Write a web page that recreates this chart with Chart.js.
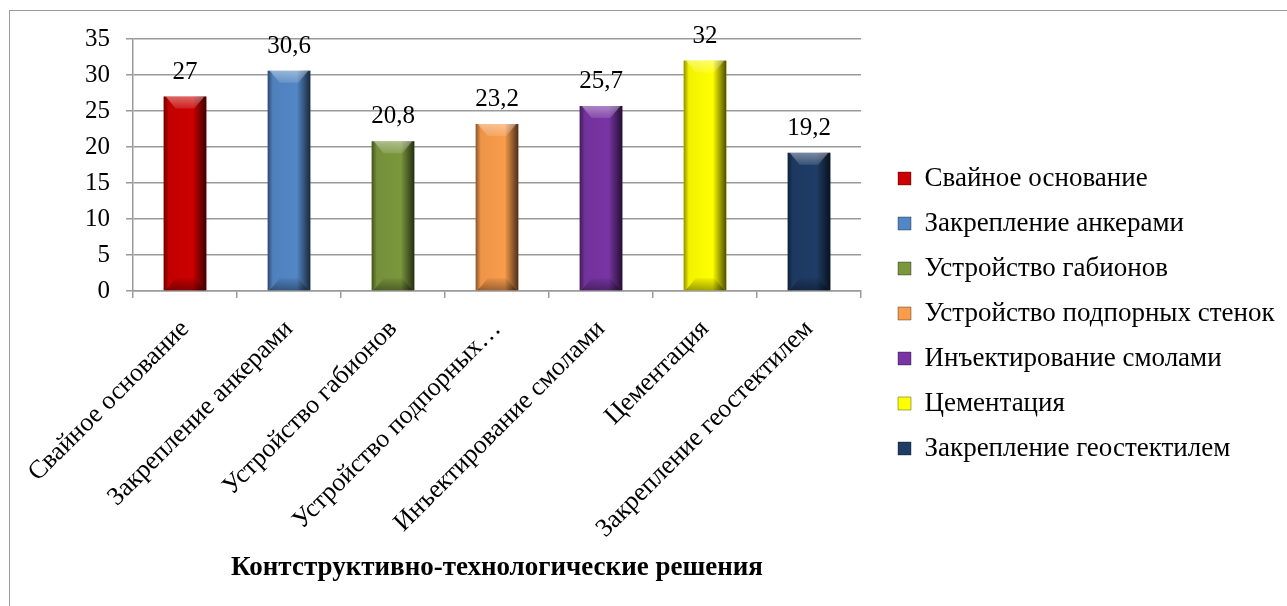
<!DOCTYPE html>
<html lang="ru">
<head>
<meta charset="UTF-8">
<title>Конструктивно-технологические решения</title>
<script src="https://cdn.jsdelivr.net/npm/chart.js"></script>
<style>
    html, body { margin: 0; padding: 0; background: #fff; overflow: hidden; }
    #frame {
        position: absolute; left: 9px; top: 10px;
        width: 1400px; height: 700px;
        border: 1px solid #9a9a9a;
    }
    #wrap { position: absolute; left: 0; top: 0; width: 1287px; height: 606px; }
</style>
</head>
<body>
<div id="frame"></div>
<div id="wrap"><canvas id="chart"></canvas></div>
<script>
    // данные диаграммы
    const categories = [
        'Свайное основание',
        'Закрепление анкерами',
        'Устройство габионов',
        'Устройство подпорных стенок',
        'Инъектирование смолами',
        'Цементация',
        'Закрепление геостектилем'
    ];
    const axisLabels = [
        'Свайное основание',
        'Закрепление анкерами',
        'Устройство габионов',
        'Устройство подпорных\u2026',
        'Инъектирование смолами',
        'Цементация',
        'Закрепление геостектилем'
    ];
    const values = [27, 30.6, 20.8, 23.2, 25.7, 32, 19.2];
    const barColors = ['#cc0000', '#5287c6', '#7b973d', '#f99c4c', '#7834a4', '#ffff00', '#1e3c66'];
    const yMin = 0, yMax = 35, yStep = 5;
    const axisTitle = 'Контструктивно-технологические решения';

    const FONT = "'Liberation Serif', 'Times New Roman', serif";
    const LEGEND_SIZE = 27, LEGEND_BOX = 13, LEGEND_PAD = 18;

    // ширина легенды, чтобы область графика кончалась там же, где в оригинале
    const mctx = document.createElement('canvas').getContext('2d');
    mctx.font = LEGEND_SIZE + 'px ' + FONT;
    const legendTextW = Math.max(...categories.map(c => mctx.measureText(c).width));
    const legendW = LEGEND_BOX + LEGEND_SIZE / 2 + legendTextW + 10 + LEGEND_PAD + 1;
    const padRight = Math.max(0, 1287 - 879 - legendW);

    // объёмные грани столбиков (как в Excel)
    const bevelPlugin = {
        id: 'bevel',
        afterDatasetsDraw(chart) {
            const ctx = chart.ctx;
            chart.getDatasetMeta(0).data.forEach(bar => {
                const p = bar.getProps(['x', 'y', 'base', 'width'], true);
                const l = p.x - p.width / 2, r = p.x + p.width / 2;
                const t = Math.min(p.y, p.base), b = Math.max(p.y, p.base);
                const bv = Math.min(12, p.width * 0.3, (b - t) / 2);
                ctx.save();
                let g = ctx.createLinearGradient(l, 0, r, 0);
                g.addColorStop(0, 'rgba(0,0,0,0.45)');
                g.addColorStop(0.12, 'rgba(0,0,0,0.05)');
                g.addColorStop(0.68, 'rgba(0,0,0,0)');
                g.addColorStop(1, 'rgba(0,0,0,0.7)');
                ctx.fillStyle = g;
                ctx.fillRect(l, t, r - l, b - t);

                g = ctx.createLinearGradient(0, t, 0, t + bv);
                g.addColorStop(0, 'rgba(255,255,255,0.4)');
                g.addColorStop(1, 'rgba(255,255,255,0.12)');
                ctx.fillStyle = g;
                ctx.beginPath();
                ctx.moveTo(l + 2, t); ctx.lineTo(r - 2, t);
                ctx.lineTo(r - bv, t + bv); ctx.lineTo(l + bv, t + bv);
                ctx.closePath(); ctx.fill();

                g = ctx.createLinearGradient(0, b - bv, 0, b);
                g.addColorStop(0, 'rgba(0,0,0,0.05)');
                g.addColorStop(1, 'rgba(0,0,0,0.35)');
                ctx.fillStyle = g;
                ctx.beginPath();
                ctx.moveTo(l + bv, b - bv); ctx.lineTo(r - bv, b - bv);
                ctx.lineTo(r - 2, b); ctx.lineTo(l + 2, b);
                ctx.closePath(); ctx.fill();
                ctx.restore();
            });
        }
    };

    // подписи значений над столбиками
    const valueLabels = {
        id: 'valueLabels',
        afterDatasetsDraw(chart) {
            const ctx = chart.ctx;
            ctx.save();
            ctx.font = "25px " + FONT;
            ctx.fillStyle = '#000';
            ctx.textAlign = 'center';
            ctx.textBaseline = 'alphabetic';
            chart.getDatasetMeta(0).data.forEach((bar, i) => {
                ctx.fillText(String(values[i]).replace('.', ','), bar.x, bar.y - 18);
            });
            ctx.restore();
        }
    };

    new Chart(document.getElementById('chart'), {
        type: 'bar',
        data: {
            labels: axisLabels,
            datasets: [{
                data: values,
                backgroundColor: barColors,
                borderWidth: 0,
                barPercentage: 0.41,
                categoryPercentage: 1
            }]
        },
        options: {
            responsive: true,
            maintainAspectRatio: false,
            animation: false,
            events: [],
            layout: { padding: { top: 39, bottom: 18, left: 0, right: padRight } },
            plugins: {
                tooltip: { enabled: false },
                legend: {
                    position: 'right',
                    maxWidth: 600,
                    labels: {
                        font: { family: FONT, size: LEGEND_SIZE },
                        color: '#000',
                        boxWidth: LEGEND_BOX,
                        boxHeight: LEGEND_BOX,
                        padding: LEGEND_PAD,
                        generateLabels: () => categories.map((c, i) => ({
                            text: c,
                            fillStyle: barColors[i],
                            strokeStyle: 'rgba(0,0,0,0.35)',
                            lineWidth: 1,
                            fontColor: '#000',
                            hidden: false,
                            index: i
                        }))
                    }
                }
            },
            scales: {
                x: {
                    grid: { display: true, drawOnChartArea: false, drawTicks: true, tickLength: 7, color: '#9a9a9a', lineWidth: 1.5 },
                    border: { display: true, color: '#9a9a9a', width: 1.5 },
                    ticks: {
                        font: { family: FONT, size: 26 },
                        color: '#000',
                        minRotation: 45,
                        maxRotation: 45,
                        autoSkip: false,
                        padding: 16
                    },
                    title: {
                        display: true,
                        text: axisTitle,
                        font: { family: FONT, size: 27, weight: 'bold' },
                        color: '#000',
                        padding: { top: 0, bottom: 4 }
                    },
                    afterFit(scale) { scale.height = 297; }
                },
                y: {
                    min: yMin,
                    max: yMax,
                    ticks: { stepSize: yStep, font: { family: FONT, size: 25 }, color: '#000', padding: 16 },
                    grid: { color: '#9a9a9a', lineWidth: 1.5, tickLength: 7 },
                    border: { display: true, color: '#9a9a9a', width: 1.5 },
                    afterFit(scale) { scale.width = 133; }
                },
                spacer: {
                    type: 'linear',
                    position: 'right',
                    display: true,
                    grid: { display: false },
                    border: { display: false },
                    ticks: { display: false },
                    afterFit(scale) { scale.width = 19; }
                }
            }
        },
        plugins: [bevelPlugin, valueLabels]
    });
</script>
</body>
</html>
